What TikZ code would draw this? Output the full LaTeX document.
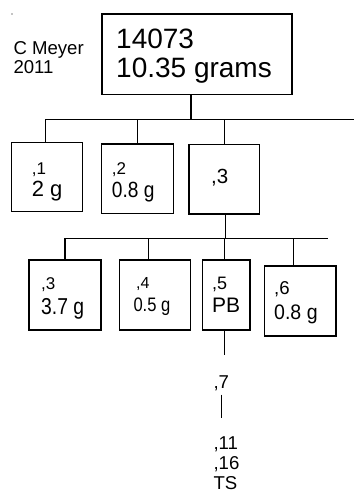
\documentclass[tikz,border=0pt]{standalone}
\usepackage{fontspec}
\usepackage{graphicx}
\setmainfont{Liberation Sans}
\usetikzlibrary{calc}
\def\narrow#1#2{\scalebox{#1}[1]{#2}}
\def\fs#1{\fontsize{#1}{#1}\selectfont}

\tikzset{
	box/.style={draw, line width=1.2pt, inner sep=0pt},
	txt/.style={inner sep=0pt, align=left, anchor=north west},
	wire/.style={line width=1.2pt}
}

\begin{document}
\begin{tikzpicture}[x=1pt, y=-1pt]
			%%%%% START %%%%%
			
			\useasboundingbox (0, 0) rectangle (354, 493);
			
			\fill (12, 14) circle (0.7);
			\node[txt, font=\fontsize{18.6}{18.3}\selectfont] (author) at (13.3, 41.7) {C Meyer\\2011};
			
			\node[box, minimum width=190, minimum height=80.5] (main) at (197, 54.25) {};
			\node[txt, font=\fontsize{28}{29.7}\selectfont] (maint) at (116, 28.3) {14073\\10.35 grams};
			
			\coordinate (busA) at (45, 119.3);
			\coordinate (busAend) at (354, 119.3);
			\draw[wire] (busA) -- (busAend);
			\draw[wire] ([xshift=-6pt]main.south) -- ([xshift=-6pt]main.south |- busA);
			
			%%%%% first row %%%%%
			\node[box, minimum width=71, minimum height=69] (c1) at (47.2, 177.2) {};
			\node[box, minimum width=71.6, minimum height=69.3] (c2) at (137.5, 178.65) {};
			\node[box, minimum width=70.7, minimum height=69.7] (c3) at (224.35, 179.15) {};
			
			\node[txt, font=\fontsize{22}{22.4}\selectfont] (c1t) at (31.7, 162.7) {{\fs{17},1}\\2 g};
			\node[txt, font=\fontsize{22}{22.4}\selectfont] (c2t) at (111.7, 162.7) {{\fs{17},2}\\\narrow{0.87}{0.8 g}};
			\node[txt, font=\fs{20.5}] (c3t) at (211, 169.3) {,3};
			
			\draw[wire] ([xshift=-2pt]c1.north) -- ([xshift=-2pt]c1.north |- busA);
			\draw[wire] (c2.north) -- (c2.north |- busA);
			\draw[wire] (c3.north) -- (c3.north |- busA);
			
			\coordinate (busB) at (65, 238.3);
			\coordinate (busBend) at (328, 238.3);
			\draw[wire] (busB) -- (busBend);
			\draw[wire] ([xshift=1.5pt]c3.south) -- ([xshift=1.5pt]c3.south |- busB);
			
			%%%%% second row %%%%%
			\node[box, minimum width=72, minimum height=70] (c4) at (65, 295) {};
			\node[box, minimum width=71.4, minimum height=70] (c5) at (155, 295) {};
			\node[box, minimum width=47.7, minimum height=70] (c6) at (226.15, 295) {};
			\node[box, minimum width=71.7, minimum height=70] (c7) at (300.15, 301) {};
			
			\node[txt, font=\fontsize{23}{25.1}\selectfont] (c4t) at (41, 277.7) {{\fs{17},3}\\\narrow{0.84}{3.7 g}};
			\node[txt, font=\fontsize{19.5}{22.5}\selectfont] (c5t) at (133.3, 277.7) {{\fs{16}\,,4}\\\narrow{0.85}{0.5 g}};
			\node[txt, font=\fontsize{21}{23.4}\selectfont] (c6t) at (212, 276.7) {{\fs{18},5}\\PB};
			\node[txt, font=\fontsize{21}{25}\selectfont] (c7t) at (274, 281.7) {{\fs{18.6},6}\\\narrow{0.93}{0.8 g}};
			
			\draw[wire] (c4.north) -- (c4.north |- busB);
			\draw[wire] ([xshift=-6.7pt]c5.north) -- ([xshift=-6.7pt]c5.north |- busB);
			\draw[wire] ([xshift=-2pt]c6.north) -- ([xshift=-2pt]c6.north |- busB);
			\draw[wire] ([xshift=-7pt]c7.north) -- ([xshift=-7pt]c7.north |- busB);
			
			%%%%% below ,5 %%%%%
			\node[txt, font=\fs{18.6}] (n7) at (213.3, 375) {,7};
			\node[txt, font=\fontsize{18.6}{20}\selectfont] (nts) at (213.3, 436.8) {,11\\,16\\TS};
			
			\draw[wire, shorten >=20pt] ([xshift=-2pt]c6.south) -- ([xshift=-2pt]c6.south |- n7.north);
			\draw[wire, shorten <=4pt, shorten >=18.5pt] (n7.south) -- (n7.south |- nts.north);
			
			%%%%% END %%%%%
\end{tikzpicture}
\end{document}
